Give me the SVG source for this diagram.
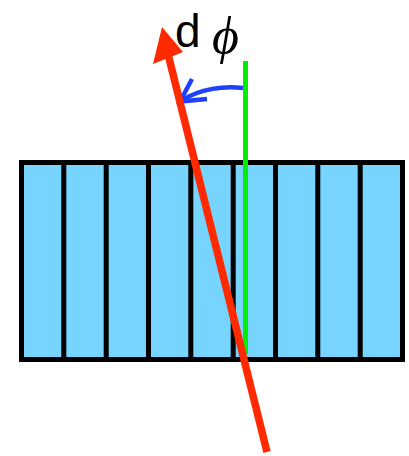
<svg xmlns="http://www.w3.org/2000/svg" width="409" height="456" viewBox="0 0 409 456">
<style>
.cell{fill:#76D4FE;stroke:#4a8aa6;stroke-width:1}
.div{stroke:#000;stroke-width:5;fill:none}
.lbl{font-family:"Liberation Sans",Arial,sans-serif;font-size:46px;fill:#000}
.phi{font-family:"Liberation Serif","DejaVu Serif",serif;font-style:italic;font-size:52px}
</style>
<g id="plate">
<rect x="21.5" y="162.5" width="381" height="197" class="cell"/>
<rect x="21.5" y="162.5" width="381" height="197" class="div"/>
<path class="div" d="M63.8 162.5V359.5M106.2 162.5V359.5M148.5 162.5V359.5M190.8 162.5V359.5M233.2 162.5V359.5M275.5 162.5V359.5M317.8 162.5V359.5M360.2 162.5V359.5"/>
</g>
<g id="normal">
<line x1="245.5" y1="61" x2="245.5" y2="354" stroke="#00EE00" stroke-width="5"/>
</g>
<g id="connectors">
<path d="M243 88 C225 86 200 88 181 101" fill="none" stroke="#1E40FF" stroke-width="4.5"/>
<path d="M192 79 L180 101.5 L207 99" fill="none" stroke="#1E40FF" stroke-width="4.5" stroke-linejoin="miter"/>
<line x1="267" y1="452" x2="166" y2="46" stroke="#FF2A00" stroke-width="7.5"/>
<polygon points="162,27 183,52 153,64" fill="#FF2A00"/>
</g>
<g id="label">
<text class="lbl" x="175" y="47">d<tspan class="phi" x="212" y="53">ϕ</tspan></text>
</g>
</svg>
